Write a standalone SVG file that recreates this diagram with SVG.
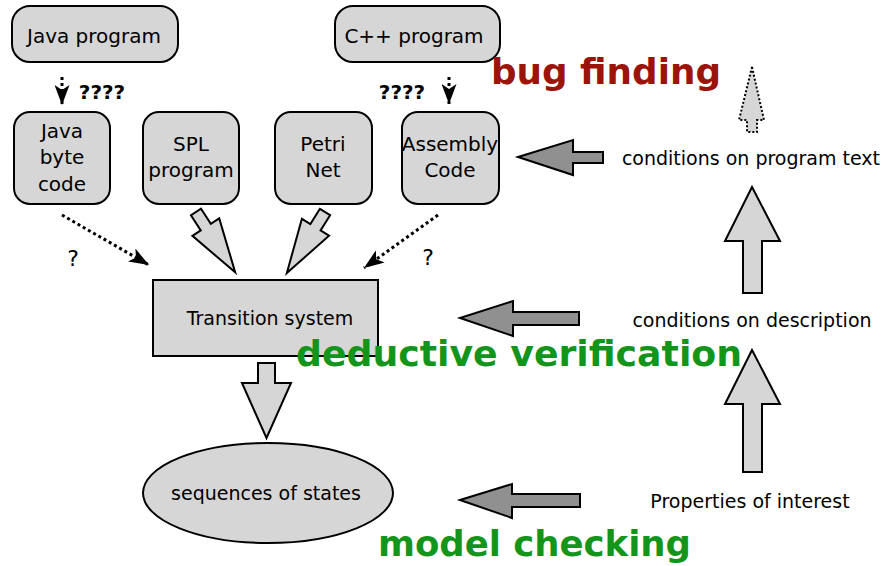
<svg xmlns="http://www.w3.org/2000/svg" width="886" height="566" viewBox="0 0 886 566">
  <defs>
    <style>
      .box { fill: #d6d6d6; stroke: #000; stroke-width: 2; }
      .lbl { font-family: "DejaVu Sans", "Liberation Sans", sans-serif; font-size: 19px; fill: #000; text-anchor: middle; }
      .blbl { font-family: "DejaVu Sans", "Liberation Sans", sans-serif; font-size: 20px; fill: #000; text-anchor: middle; }
      .q { font-family: "DejaVu Sans", "Liberation Sans", sans-serif; font-size: 20px; font-weight: bold; fill: #000; text-anchor: middle; }
      .q1 { font-family: "DejaVu Sans", "Liberation Sans", sans-serif; font-size: 22px; fill: #000; text-anchor: middle; }
      .big { font-family: "DejaVu Sans", "Liberation Sans", sans-serif; font-size: 35px; font-weight: bold; }
      .red { fill: #9b1309; }
      .green { fill: #13941a; }
      .light { fill: #d6d6d6; stroke: #000; stroke-width: 2; stroke-linejoin: miter; }
      .dark { fill: #909090; stroke: #000; stroke-width: 2; stroke-linejoin: miter; }
      .dots { fill: none; stroke: #000; stroke-width: 3; stroke-dasharray: 3 3; }
      .dotted-outline { fill: #d6d6d6; stroke: #000; stroke-width: 2; stroke-dasharray: 2 2; }
    </style>
    <marker id="head" markerUnits="userSpaceOnUse" markerWidth="20" markerHeight="15" viewBox="0 0 20 15" refX="20" refY="7.5" orient="auto">
      <path d="M0,0 L20,7.5 L0,15 L5,7.5 Z" fill="#000"/>
    </marker>
  </defs>

  <!-- source programs -->
  <g id="java-program">
    <rect class="box" x="12" y="6" width="166" height="56" rx="18"/>
    <text class="blbl" x="94" y="43">Java program</text>
  </g>
  <g id="cpp-program">
    <rect class="box" x="335" y="6" width="165" height="56" rx="18"/>
    <text class="blbl" x="414" y="43">C++ program</text>
  </g>

  <!-- intermediate descriptions -->
  <g id="java-byte-code">
    <rect class="box" x="14" y="112" width="96" height="92" rx="16"/>
    <text class="blbl" x="62" y="138">Java</text>
    <text class="blbl" x="62" y="164">byte</text>
    <text class="blbl" x="62" y="191">code</text>
  </g>
  <g id="spl-program">
    <rect class="box" x="143" y="112" width="96" height="92" rx="16"/>
    <text class="blbl" x="191" y="151">SPL</text>
    <text class="blbl" x="191" y="177">program</text>
  </g>
  <g id="petri-net">
    <rect class="box" x="275" y="112" width="97" height="92" rx="16"/>
    <text class="blbl" x="323" y="151">Petri</text>
    <text class="blbl" x="323" y="177">Net</text>
  </g>
  <g id="assembly-code">
    <rect class="box" x="402" y="112" width="97" height="92" rx="16"/>
    <text class="blbl" x="450" y="151">Assembly</text>
    <text class="blbl" x="450" y="177">Code</text>
  </g>

  <g id="transition-system">
    <rect class="box" x="153" y="280" width="225" height="76"/>
    <text class="lbl" x="270" y="325">Transition system</text>
  </g>

  <g id="sequences-of-states">
    <ellipse class="box" cx="268" cy="493" rx="125" ry="50"/>
    <text class="lbl" x="266" y="500">sequences of states</text>
  </g>

  <!-- properties column -->
  <g id="conditions-program-text">
    <text class="lbl" x="751" y="165">conditions on program text</text>
  </g>
  <g id="conditions-description">
    <text class="lbl" x="752" y="327">conditions on description</text>
  </g>
  <g id="properties">
    <text class="lbl" x="750" y="508">Properties of interest</text>
  </g>

  <!-- connectors -->
  <g id="connectors">
    <!-- dotted translation arrows -->
    <line class="dots" x1="62" y1="77" x2="62" y2="105" marker-end="url(#head)"/>
    <line class="dots" x1="449" y1="77" x2="449" y2="104" marker-end="url(#head)"/>
    <line class="dots" x1="62" y1="215" x2="149" y2="265" marker-end="url(#head)"/>
    <line class="dots" x1="438" y1="215" x2="364" y2="268" marker-end="url(#head)"/>
    <text class="q" x="102" y="99">????</text>
    <text class="q" x="402" y="99">????</text>
    <text class="q1" x="73" y="266">?</text>
    <text class="q1" x="428" y="265">?</text>

    <!-- block arrows into the transition system -->
    <path class="light" transform="translate(196,212) rotate(57)" d="M0,-6 L18,-6 L18,-16 L72,0 L18,16 L18,6 L0,6 Z"/>
    <path class="light" transform="translate(325,212) rotate(122)" d="M0,-6 L18,-6 L18,-16 L72,0 L18,16 L18,6 L0,6 Z"/>

    <!-- transition system to sequences -->
    <path class="light" d="M258,363 L275,363 L275,383 L291,383 L266.5,438 L242,383 L258,383 Z"/>

    <!-- property refinement arrows -->
    <path class="light" d="M752,187 L780,241 L762,241 L762,293 L743,293 L743,241 L725,241 Z"/>
    <path class="light" d="M752,350 L780,404 L762,404 L762,472 L743,472 L743,404 L725,404 Z"/>
    <path class="dotted-outline" d="M752,67 L764,120 L757,120 L757,132 L747,132 L747,120 L739,120 Z"/>

    <!-- checking arrows -->
    <path class="dark" d="M518,157 L573,140 L573,152 L603,152 L603,163 L573,163 L573,175 Z"/>
    <path class="dark" d="M460,318 L513,301 L513,312 L579,312 L579,325 L513,325 L513,336 Z"/>
    <path class="dark" d="M460,500 L512,484 L512,494 L580,494 L580,507 L512,507 L512,518 Z"/>
  </g>

  <!-- technique labels -->
  <text class="big red" x="491" y="84" textLength="230" lengthAdjust="spacingAndGlyphs">bug finding</text>
  <text class="big green" x="296" y="366" textLength="446" lengthAdjust="spacingAndGlyphs">deductive verification</text>
  <text class="big green" x="378" y="556" textLength="313" lengthAdjust="spacingAndGlyphs">model checking</text>
</svg>
